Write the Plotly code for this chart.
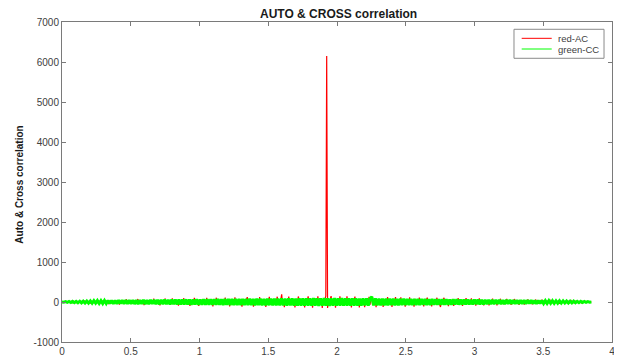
import numpy as np
import plotly.graph_objects as go

# ---- data ----
x_max = 3.85  # extent of the lag axis

red_ac = [
    0, 4, -6, 8, -7, 10, -9, 12, -11, 13, -12, 15, -14, 24, -16, 17, -15, 18, -28, 19,
    -20, 21, -19, 23, -22, 40, -21, 24, -23, 22, -25, 24, -42, 25, -23, 26, -24, 27, -26, 28,
    -27, 29, -28, 30, 55, -29, 31, -30, 29, -31, 32, -30, 31, -52, 33, -32, 30, -33, 32, -31,
    34, -33, 35, -36, 34, -65, 36, -35, 37, -34, 38, -37, 36, 66, -38, 37, -39, 38, -36, 39,
    -39, 40, -41, 39, -42, 41, 74, -40, 42, -43, 41, -42, 43, -76, 42, -44, 43, -41, 44, -43,
    44, -45, 46, -44, 84, -46, 45, -47, 46, -45, 47, -88, 46, -48, 47, -46, 48, 86, -47, 48,
    -48, 49, -50, 48, -51, 92, -49, 50, -52, 51, -50, 49, -90, 51, -52, 50, -51, 52, 94, -50,
    52, -53, 54, -52, 55, -98, 53, -54, 55, -53, 102, -54, 55, -52, 54, -100, 53, -55, 54, -53,
    56, -55, 57, -58, 104, -56, 58, -57, 59, -56, 58, -108, 57, -59, 58, 106, -57, 59, -58, 57,
    -59, 60, -61, 59, -62, 112, -60, 61, -62, 60, -110, 61, -62, 60, 61, -59, 114, -61, 62, -60,
    62, -63, 64, -62, -118, 63, -64, 65, -63, 64, 122, -65, 63, -64, 65, -62, 64, -120, 63, -65,
    65, -66, 67, -65, 126, -67, 66, -68, 67, -66, 68, -124, 67, -66, 68, 128, -67, 65, -68, 67,
    -68, 69, -70, 68, 132, -69, 70, -68, 69, 190, -70, 68, -130, 69, -70, 70, -69, 134, -68, 70,
    -70, 71, -72, 70, -136, 72, -71, 73, 138, -72, 71, -73, 72, -70, 73, -134, 71, -72, 73, 140,
    -73, 74, -75, 73, -142, 75, -74, 76, 74, -75, 144, -76, 75, -74, 76, -146, 75, -76, 74, 148,
    6150,
    -150, 76, -75, 74, 146, -76, 75, -74, 76, -144, 75, -73, 74, -75, 142, -74, 73, -75, 74, -73,
    73, -72, 140, -73, 71, -72, 73, -138, 71, -72, 70, 136, -71, 72, -70, 71, -134, 72, -71, 70,
    -70, 69, -132, 70, -68, 69, -70, 130, -69, 68, 150, -69, 68, -70, 69, -128, 68, -69, 70, -68,
    68, -67, 66, -126, 67, -68, 66, -67, 124, -66, 67, -65, 66, -122, 67, -66, 65, 124, -67, 66,
    -65, 64, -63, 118, -64, 65, -63, 64, -120, 63, -62, 64, -63, 116, -62, 63, -64, 62, -118, 63,
    62, -61, 60, -62, 112, -61, 60, -59, 61, -110, 60, -61, 59, 108, -60, 61, -59, 60, -112, 59,
    -59, 58, -57, 59, 106, -58, 57, -56, -125, 58, -57, 56, 104, -57, 58, -56, 57, -102, 56, -55,
    55, -54, 53, -98, 54, -55, 53, -52, 100, -54, 53, -52, 54, -96, 53, -52, 54, 98, -53, 52,
    -52, 51, -50, 92, -51, 52, -50, 49, -94, 51, -50, 49, 90, -50, 51, -49, 50, -88, 49, -48,
    48, -47, 46, -86, 47, -48, 46, 84, -47, 46, -45, 47, -82, 46, -45, 44, 80, -46, 45, -44,
    -44, 43, -42, 76, -43, 44, -42, 41, -74, 43, -42, 41, 72, -42, 41, -40, 42, -70, 40, -39,
    39, -38, 37, -66, 38, -37, 36, 64, -37, 36, -35, 37, -62, 36, -35, 34, 60, -35, 34, -34,
    -33, 32, -31, 56, -32, 31, -30, 31, -54, 30, -29, 30, 50, -29, 30, -28, 29, -48, 28, -28,
    27, -26, 27, -44, 26, -25, 24, 40, -25, 24, -23, 24, -36, 23, -22, 22, 32, -21, 21, -20,
    -19, 18, -17, 26, -16, 15, -15, 14, -22, 13, -12, 11, -10, 14, -9, 8, -7, 5, -3, 0,
]

green_cc = [
    0, -6, 9, -11, 12, -14, 15, -16, 17, -19, 20, -22, 21, -24, 26,
    -28, 27, -31, 33, -30, 35, -36, 34, -38, 39, -36, 40, -41, 38, -42,
    40, -43, 44, -41, 46, -45, 43, -48, 47, -44, 49, -50, 46, -51, 50,
    -48, 52, -53, 50, -55, 54, -51, 56, -57, 53, -58, 57, -54, 59, -58,
    56, -60, 61, -58, 62, -63, 60, -64, 65, -61, 66, -64, 63, -67, 66,
    -64, 68, -69, 66, -70, 71, -67, 72, -71, 69, -73, 72, -70, 74, -73,
    71, -75, 76, -72, 77, -76, 74, -78, 77, -75, 79, -78, 76, -80, 79,
    -77, 81, -80, 78, -82, 83, -79, 84, -82, 80, -85, 84, -81, 86, -85,
    83, -87, 86, -84, 88, -87, 85, -89, 90, -86, 91, -88, 87, -92, 90,
    -88, 93, -91, 89, -94, 92, -90, 95, -93, 91, -96, 94, -92, 95, -94,
    93, -95, 94, -92, 96, -93, 91, -94, 95, -90, 93, -92, 89, -93, 92,
    -88, 91, -90, 87, -91, 89, -86, 90, -88, 85, 130, -87, 88, -86, 85,
    -84, 86, -83, 81, -85, 84, -80, 83, -82, 79, -83, 81, -78, 82, -80,
    77, -80, 79, -76, 79, -78, 74, -78, 77, -73, 76, -75, 72, -75, 74,
    -71, 73, -72, 69, -72, 70, -67, 70, -69, 66, -69, 67, -64, 67, -66,
    63, -66, 65, -62, 64, -63, 59, -63, 62, -58, 61, -60, 56, -59, 58,
    -55, 58, -57, 54, -57, 55, -51, 55, -54, 50, -53, 52, -48, 52, -50,
    47, -50, 49, -45, 48, -47, 43, -46, 45, -41, 44, -42, 39, -42, 40,
    -37, 40, -38, 35, -37, 35, -32, 34, -33, 29, -31, 30, -27, 28, -26,
    24, -25, 23, -21, 21, -19, 17, -17, 15, -13, 12, -10, 8, -5, 0,
]

x_red = np.linspace(0, x_max, len(red_ac))
x_green = np.linspace(0, x_max, len(green_cc))

series_names = ["red-AC", "green-CC"]
series_colors = ["#ff0000", "#00ff00"]

x_ticks = [0, 0.5, 1, 1.5, 2, 2.5, 3, 3.5, 4]
x_tick_labels = ["0", "0.5", "1", "1.5", "2", "2.5", "3", "3.5", "4"]
y_ticks = [-1000, 0, 1000, 2000, 3000, 4000, 5000, 6000, 7000]
y_tick_labels = ["-1000", "0", "1000", "2000", "3000", "4000", "5000", "6000", "7000"]

FONT = "Liberation Sans, Arial, sans-serif"
AXC = "#7a7a7a"
TXC = "#404040"

fig = go.Figure()
fig.add_trace(go.Scatter(x=x_red, y=red_ac, mode="lines", name=series_names[0],
                         line=dict(color=series_colors[0], width=1.2), showlegend=False))
fig.add_trace(go.Scatter(x=x_green, y=green_cc, mode="lines", name=series_names[1],
                         line=dict(color=series_colors[1], width=3), showlegend=False))

axis_common = dict(showline=True, linecolor=AXC, linewidth=1, mirror="ticks",
                   ticks="inside", ticklen=4, tickcolor=AXC, showgrid=False,
                   zeroline=False, tickfont=dict(family=FONT, size=10, color=TXC),
                   automargin=False)

# legend drawn as a MATLAB-style box (paper coordinates)
shapes = [
    dict(type="rect", xref="paper", yref="paper", x0=0.8218, x1=0.9855, y0=0.8866, y1=0.9772,
         line=dict(color="#8a8a8a", width=1), fillcolor="white", layer="above"),
    dict(type="line", xref="paper", yref="paper", x0=0.8358, x1=0.8904, y0=0.949, y1=0.949,
         line=dict(color=series_colors[0], width=1), layer="above"),
    dict(type="line", xref="paper", yref="paper", x0=0.8358, x1=0.8904, y0=0.9156, y1=0.9156,
         line=dict(color=series_colors[1], width=1), layer="above"),
]

annotations = [
    dict(text="<b>AUTO & CROSS correlation</b>", xref="paper", yref="paper",
         x=0.502, y=1.025, xanchor="center", yanchor="middle", showarrow=False,
         font=dict(family=FONT, size=12, color="#1a1a1a")),
    dict(text="<b>Auto & Cross correlation</b>", xref="paper", yref="paper",
         x=-0.078, y=0.492, xanchor="center", yanchor="middle",
         textangle=-90, showarrow=False,
         font=dict(family=FONT, size=10, color="#1a1a1a")),
    dict(text=series_names[0], xref="paper", yref="paper", x=0.8976, y=0.949,
         xanchor="left", yanchor="middle", showarrow=False,
         font=dict(family=FONT, size=9.5, color=TXC)),
    dict(text=series_names[1], xref="paper", yref="paper", x=0.8976, y=0.9156,
         xanchor="left", yanchor="middle", showarrow=False,
         font=dict(family=FONT, size=9.5, color=TXC)),
]

# page body has an 8px default margin, so the figure is sized to fit the window
fig.update_layout(
    width=614, height=348,
    margin=dict(l=54, r=10, t=14, b=14),
    paper_bgcolor="white", plot_bgcolor="white",
    showlegend=False,
    xaxis=dict(range=[0, 4], tickvals=x_ticks, ticktext=x_tick_labels, **axis_common),
    yaxis=dict(range=[-1000, 7000], tickvals=y_ticks, ticktext=y_tick_labels, **axis_common),
    shapes=shapes,
    annotations=annotations,
)

fig.write_html("out.html")
